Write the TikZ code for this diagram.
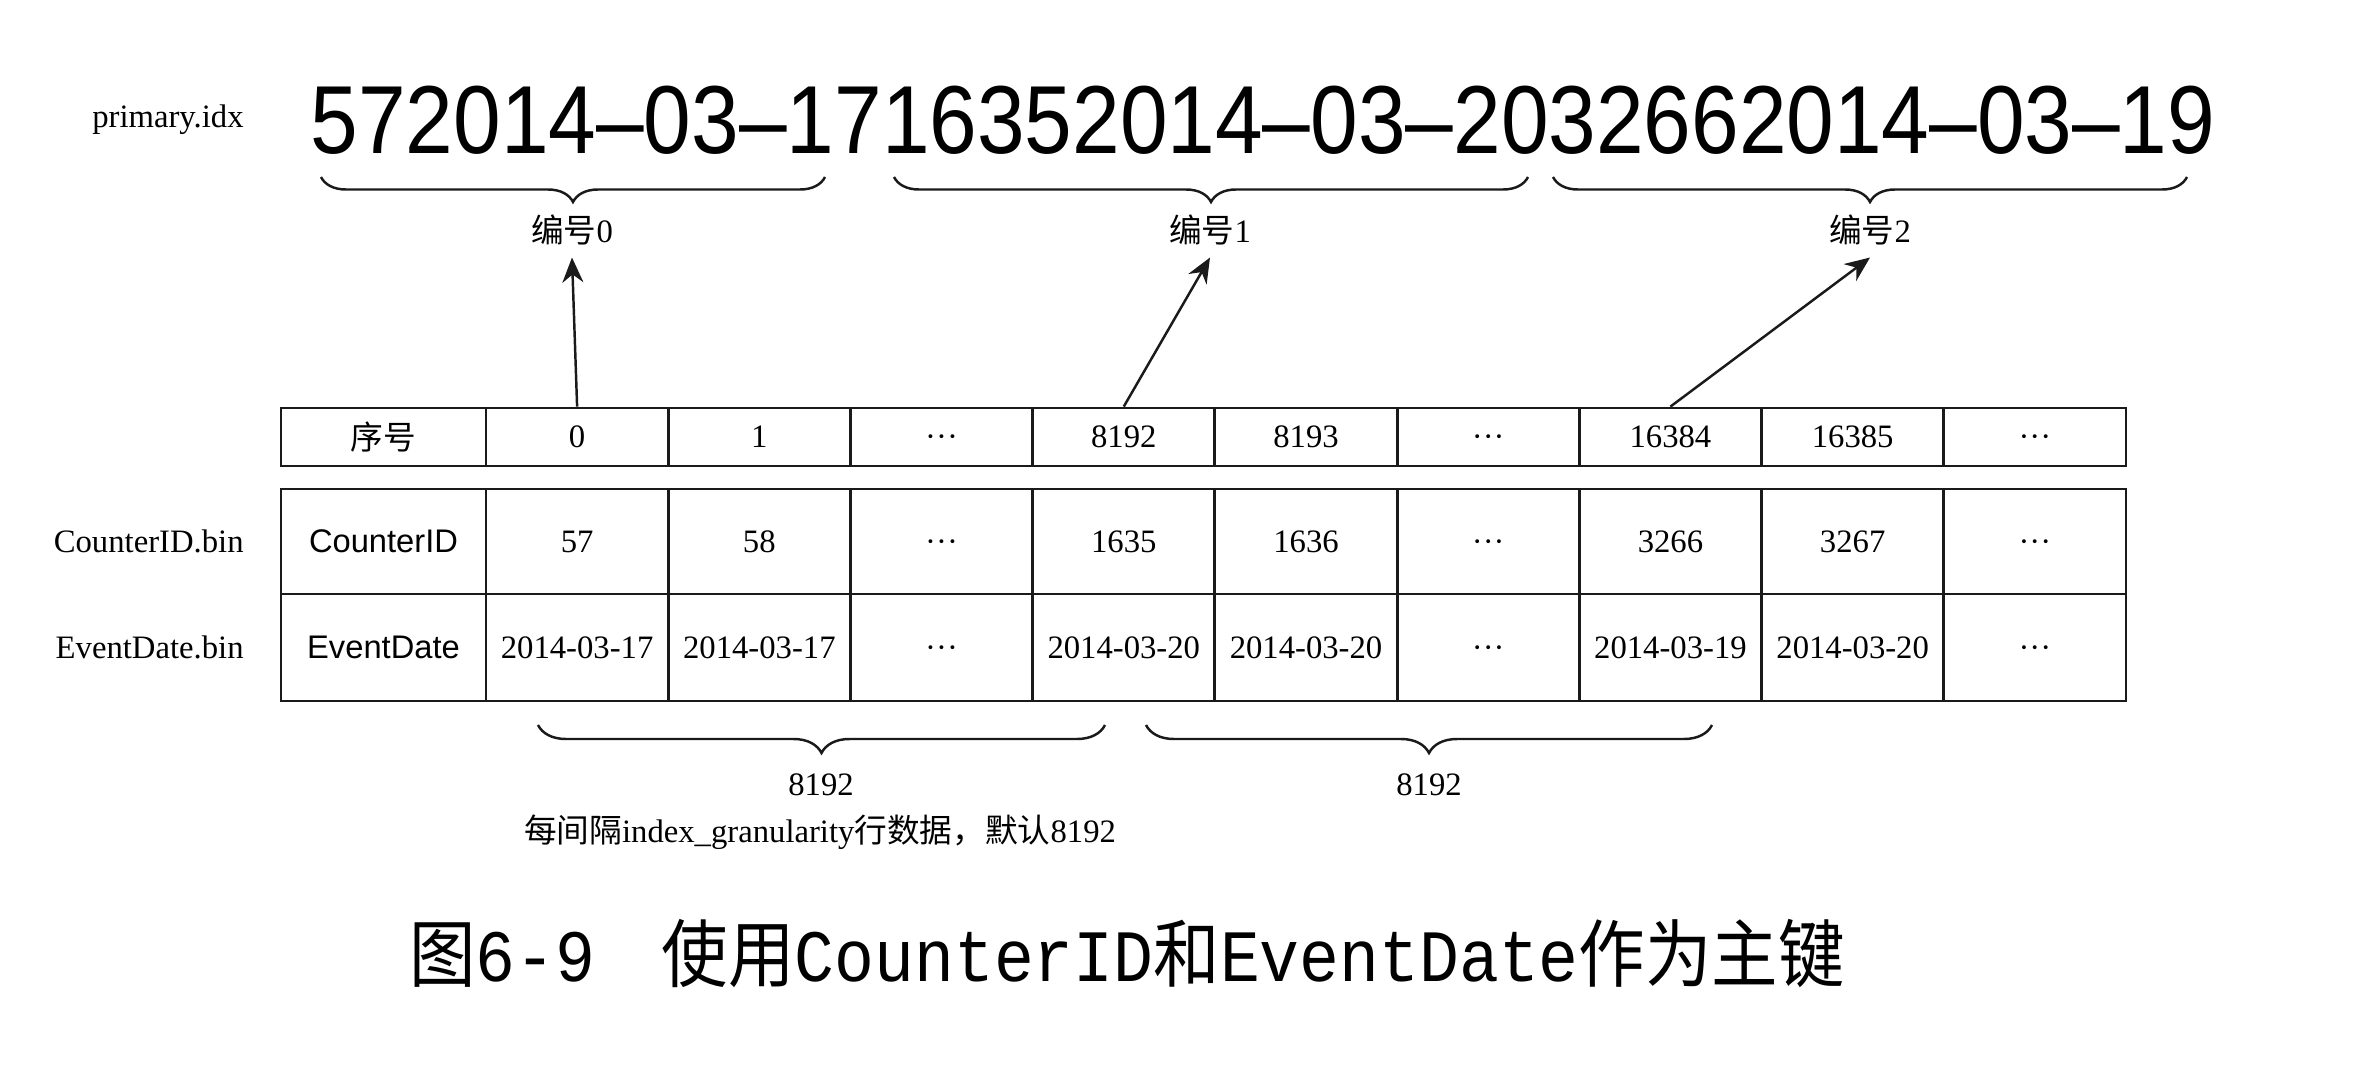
\documentclass[tikz,border=0pt]{standalone}
\usepackage{fontspec}
\usepackage{tikz}
\usetikzlibrary{arrows.meta,positioning,calc,decorations.pathreplacing}
\setmainfont{Liberation Serif}
\setsansfont{Liberation Sans}
\newfontfamily\cjk{Noto Sans CJK SC}
\newfontfamily\capmono{Liberation Mono}
\definecolor{idxink}{HTML}{1A1A1A}
\newcommand\skipdots{\vphantom{0}\textperiodcentered\textperiodcentered\textperiodcentered}

\begin{document}
\begin{tikzpicture}[
    cell/.style={draw=idxink, line width=0.8pt, minimum width=1.822cm, inner sep=0pt,
                 font=\fontsize{9.3}{11}\selectfont},
    headcell/.style={cell, minimum width=2.05cm, font=\sffamily\fontsize{9.3}{11}\selectfont},
    filelabel/.style={anchor=east, font=\fontsize{9.3}{11}\selectfont},
    note/.style={font=\fontsize{9.3}{11}\selectfont},
    idxbrace/.style={decorate, decoration={brace, mirror, amplitude=#1}, line width=0.7pt, idxink},
    arr/.style={-{Stealth[length=2.5mm, width=2.1mm]}, line width=0.7pt, idxink}]
  \useasboundingbox (0,0) rectangle (23.64,10.70);

  % primary.idx as one long string
  \node[filelabel] (primary) at (2.56,9.50) {primary.idx};
  \node[anchor=base west, inner sep=0pt, font=\sffamily\fontsize{27.5}{30}\selectfont] (idxrow) at (3.10,9.16)
    {\scalebox{0.886}[1]{572014\textendash03\textendash1716352014\textendash03\textendash2032662014\textendash03\textendash19}};
  \draw[idxbrace=0.25cm] (3.21,8.93) -- (8.25,8.93);
  \draw[idxbrace=0.25cm] (8.94,8.93) -- (15.28,8.93);
  \draw[idxbrace=0.25cm] (15.53,8.93) -- (21.87,8.93);
  \node[note] (no0) at (5.72,8.40) {{\cjk 编号}0};
  \node[note] (no1) at (12.10,8.40) {{\cjk 编号}1};
  \node[note] (no2) at (18.70,8.40) {{\cjk 编号}2};

  % row numbers
  \node[headcell, minimum height=0.58cm, font=\cjk\fontsize{9.3}{11}\selectfont] (id-0) at (3.835,6.33) {序号};
  \foreach \t [count=\i] in {0,1,\skipdots,8192,8193,\skipdots,16384,16385,\skipdots}
    \node[cell, minimum height=0.58cm] (id-\i) at ({4.86+(\i-0.5)*1.8222},6.33) {\t};

  % column files
  \node[filelabel] (cidfile) at (2.56,5.285) {CounterID.bin};
  \node[filelabel] (datefile) at (2.56,4.225) {EventDate.bin};
  \node[headcell, minimum height=1.05cm] (cid-0) at (3.835,5.285) {CounterID};
  \node[headcell, minimum height=1.07cm] (date-0) at (3.835,4.225) {EventDate};
  \foreach \t [count=\i] in {57,58,\skipdots,1635,1636,\skipdots,3266,3267,\skipdots}
    \node[cell, minimum height=1.05cm] (cid-\i) at ({4.86+(\i-0.5)*1.8222},5.285) {\t};
  \foreach \t [count=\i] in {2014-03-17,2014-03-17,\skipdots,2014-03-20,2014-03-20,\skipdots,2014-03-19,2014-03-20,\skipdots}
    \node[cell, minimum height=1.07cm] (date-\i) at ({4.86+(\i-0.5)*1.8222},4.225) {\t};

  \draw[arr] (id-1.north) -- (no0.south);
  \draw[arr] (id-4.north) -- (no1.south);
  \draw[arr] (id-7.north) -- (no2.south);

  % granularity
  \draw[idxbrace=0.28cm] (5.38,3.45) -- (11.05,3.45);
  \draw[idxbrace=0.28cm] (11.46,3.45) -- (17.12,3.45);
  \node[note] (gran0) at (8.21,2.85) {8192};
  \node[note] (gran1) at (14.29,2.85) {8192};
  \node[note] (every) at (8.20,2.38) {{\cjk 每间隔}index\_granularity{\cjk 行数据，默认}8192};

  \node[font=\capmono\fontsize{21}{24}\selectfont] (caption) at (11.27,1.165)
    {\scalebox{0.9}[1]{{\cjk 图}6-9\quad{\cjk 使用}CounterID{\cjk 和}EventDate{\cjk 作为主键}}};
\end{tikzpicture}
\end{document}
